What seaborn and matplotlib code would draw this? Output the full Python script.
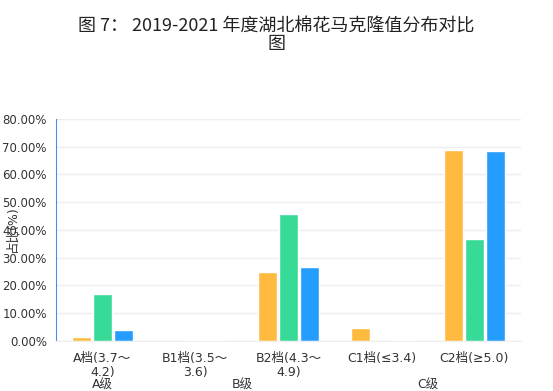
import pandas as pd
import matplotlib
matplotlib.use('Agg')
import matplotlib.pyplot as plt
import seaborn as sns
from matplotlib.ticker import FuncFormatter

# categories and values (percent)
categories = ['A档(3.7～\n4.2)', 'B1档(3.5～\n3.6)', 'B2档(4.3～\n4.9)', 'C1档(≤3.4)', 'C2档(≥5.0)']
years = ['2019', '2020', '2021']
v2019 = [1.4, 0.0, 24.9, 4.7, 68.8]
v2020 = [17.0, 0.4, 45.8, 0.0, 36.8]
v2021 = [4.1, 0.4, 26.7, 0.4, 68.5]
groups = ['A级', 'B级', 'C级']
colors = ['#FFBB3F', '#37DA96', '#259DFF']

df = pd.DataFrame({
    'cat': categories * 3,
    'year': sum([[y] * len(categories) for y in years], []),
    'val': v2019 + v2020 + v2021,
})

sns.set_style('white')
plt.rcParams['font.family'] = ['DejaVu Sans', 'Noto Sans CJK SC']

fig = plt.figure(figsize=(5.53, 3.91), dpi=100)
ax = fig.add_axes([0.101, 0.128, 0.841, 0.568])

sns.barplot(data=df, x='cat', y='val', hue='year', palette=colors,
            width=0.68, gap=0.08, legend=False, ax=ax, saturation=1)

ax.set_ylim(0, 80)
ax.set_yticks(range(0, 81, 10))
ax.yaxis.set_major_formatter(FuncFormatter(lambda v, p: f'{v:.2f}%'))
ax.grid(axis='y', color='#EEEEEE', linewidth=1)
ax.set_axisbelow(True)
for s in ['top', 'right']:
    ax.spines[s].set_visible(False)
ax.spines['left'].set_color('#4A90E2')
ax.spines['bottom'].set_color('#EEEEEE')
ax.tick_params(axis='y', length=5, color='#4A90E2', labelsize=8.5, labelcolor='#333333', pad=1.5)
ax.tick_params(axis='x', length=0, labelsize=9, labelcolor='#333333', pad=8)
for t in ax.get_xticklabels():
    t.set_linespacing(1.1)
ax.set_xlabel('')
ax.set_ylabel('占比(%)', fontsize=9, color='#333333')
ax.yaxis.set_label_coords(-0.08, 0.5)

# group labels below the category labels
for g, xpos in zip(groups, [0, 1.5, 3.5]):
    ax.text(xpos, -0.2, g, transform=ax.get_xaxis_transform(), ha='center', va='center',
            fontsize=9, color='#333333')

fig.text(0.5, 0.955, '图 7： 2019-2021 年度湖北棉花马克隆值分布对比\n图', ha='center', va='top',
         fontsize=13, color='#222222', linespacing=0.95,
         family=['Noto Sans CJK SC', 'DejaVu Sans'])

fig.savefig('out.png', dpi=100)
